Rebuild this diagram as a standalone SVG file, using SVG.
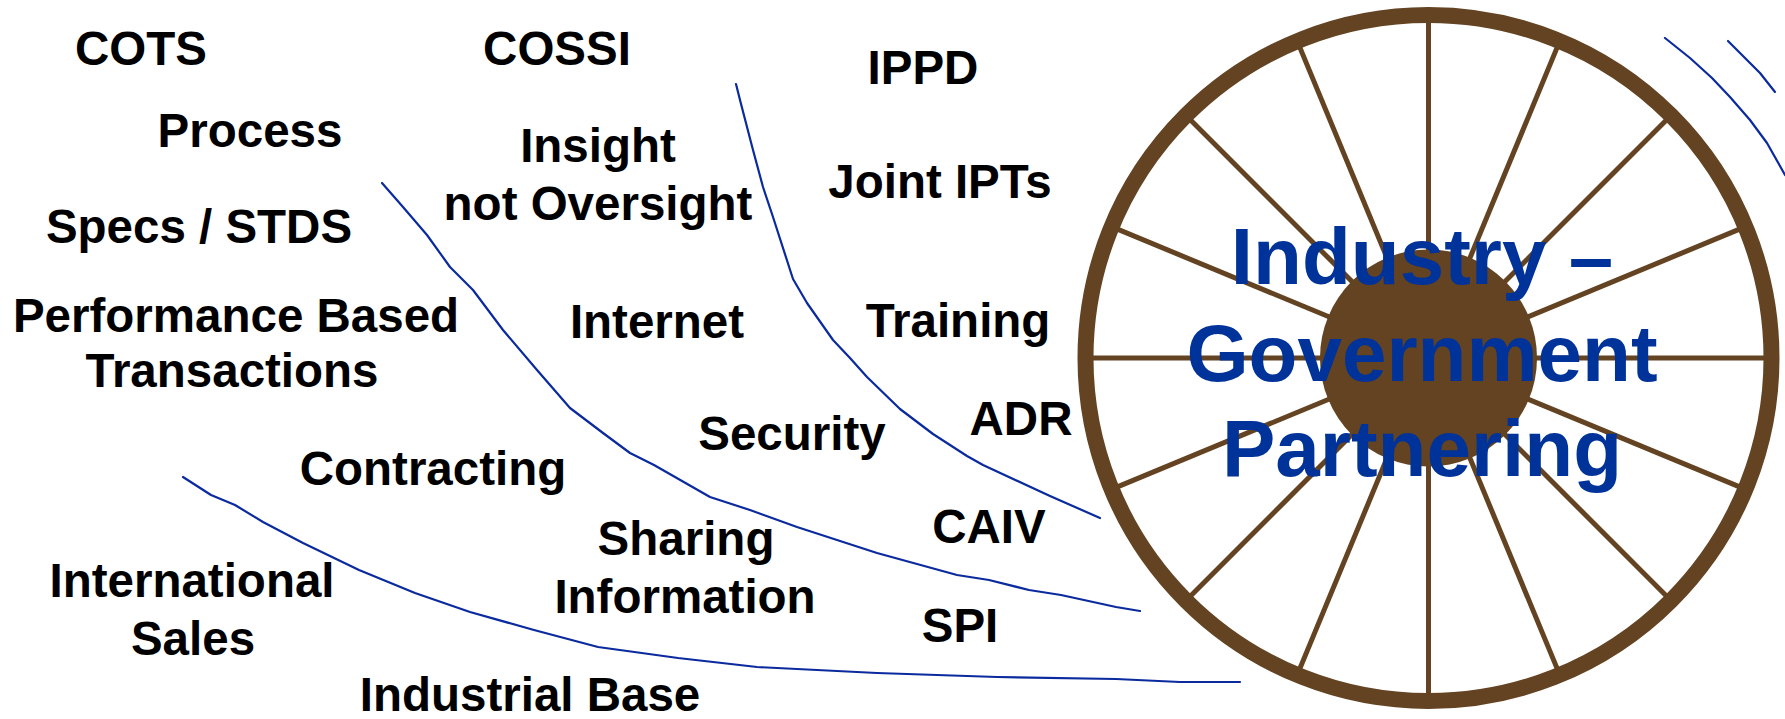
<svg xmlns="http://www.w3.org/2000/svg" width="1785" height="719" viewBox="0 0 1785 719">
<style>
.lbl{font-family:"Liberation Sans",Arial,sans-serif;font-weight:bold;font-size:47.5px;fill:#000;text-anchor:middle}
.title{font-family:"Liberation Sans",Arial,sans-serif;font-weight:bold;font-size:80px;fill:#003399;text-anchor:middle}
.ln{fill:none;stroke:#0a2a9e;stroke-width:2.2;stroke-linejoin:round;stroke-linecap:round}
.spoke{stroke:#634321;stroke-width:5}
</style>
<rect width="1785" height="719" fill="#fff"/>
<g id="connectors">
<polyline class="ln" points="736,84 740,100 753,150 763,187 773,217 793,279 807,303 833,340 850,358 867,377 900,409 933,434 967,456 983,465 1050,496 1100,518"/>
<polyline class="ln" points="382,183 403,207 427,235 450,267 473,290 503,330 537,370 570,408 603,433 630,453 654,465 710,497 750,510 797,527 877,553 957,575 989,580 1029,590 1061,595 1116,607 1140,611"/>
<polyline class="ln" points="183,477 211,495 235,505 263,522 303,543 359,570 415,593 470,612 534,630 598,647 678,658 757,667 877,673 997,677 1116,679 1180,682 1240,682"/>
<polyline class="ln" points="1665,38 1690,58 1712,78 1730,97 1750,120 1767,143 1785,175"/>
<polyline class="ln" points="1728,41 1747,60 1760,73 1775,92"/>
</g>
<g id="wheel">
<g transform="translate(1428.5,358)">
<g class="spoke">
<line x1="0" y1="-340" x2="0" y2="340"/>
<line x1="0" y1="-340" x2="0" y2="340" transform="rotate(22.5)"/>
<line x1="0" y1="-340" x2="0" y2="340" transform="rotate(45)"/>
<line x1="0" y1="-340" x2="0" y2="340" transform="rotate(67.5)"/>
<line x1="0" y1="-340" x2="0" y2="340" transform="rotate(90)"/>
<line x1="0" y1="-340" x2="0" y2="340" transform="rotate(112.5)"/>
<line x1="0" y1="-340" x2="0" y2="340" transform="rotate(135)"/>
<line x1="0" y1="-340" x2="0" y2="340" transform="rotate(157.5)"/>
</g>
<circle r="343" fill="none" stroke="#634321" stroke-width="16"/>
<circle r="108.5" fill="#634321"/>
</g>
</g>
<g id="title">
<text class="title" x="1422" y="284">Industry –</text>
<text class="title" x="1422" y="381">Government</text>
<text class="title" x="1422" y="476">Partnering</text>
</g>
<g id="n-cots"><text class="lbl" x="141" y="65">COTS</text></g>
<g id="n-cossi"><text class="lbl" x="557" y="65">COSSI</text></g>
<g id="n-ippd"><text class="lbl" x="923" y="84">IPPD</text></g>
<g id="n-process"><text class="lbl" x="250" y="147">Process</text></g>
<g id="n-insight"><text class="lbl" x="598" y="162">Insight</text><text class="lbl" x="598" y="220">not Oversight</text></g>
<g id="n-jointipts"><text class="lbl" x="940" y="198">Joint IPTs</text></g>
<g id="n-specs"><text class="lbl" x="199" y="243">Specs / STDS</text></g>
<g id="n-perf"><text class="lbl" x="236" y="332">Performance Based</text><text class="lbl" x="232" y="387">Transactions</text></g>
<g id="n-internet"><text class="lbl" x="657" y="338">Internet</text></g>
<g id="n-training"><text class="lbl" x="958" y="337">Training</text></g>
<g id="n-adr"><text class="lbl" x="1021" y="435">ADR</text></g>
<g id="n-security"><text class="lbl" x="792" y="450">Security</text></g>
<g id="n-contracting"><text class="lbl" x="433" y="485">Contracting</text></g>
<g id="n-caiv"><text class="lbl" x="989" y="543">CAIV</text></g>
<g id="n-sharing"><text class="lbl" x="686" y="555">Sharing</text><text class="lbl" x="685" y="613">Information</text></g>
<g id="n-intl"><text class="lbl" x="192" y="597">International</text><text class="lbl" x="193" y="655">Sales</text></g>
<g id="n-spi"><text class="lbl" x="960" y="642">SPI</text></g>
<g id="n-indbase"><text class="lbl" x="530" y="711">Industrial Base</text></g>
</svg>
